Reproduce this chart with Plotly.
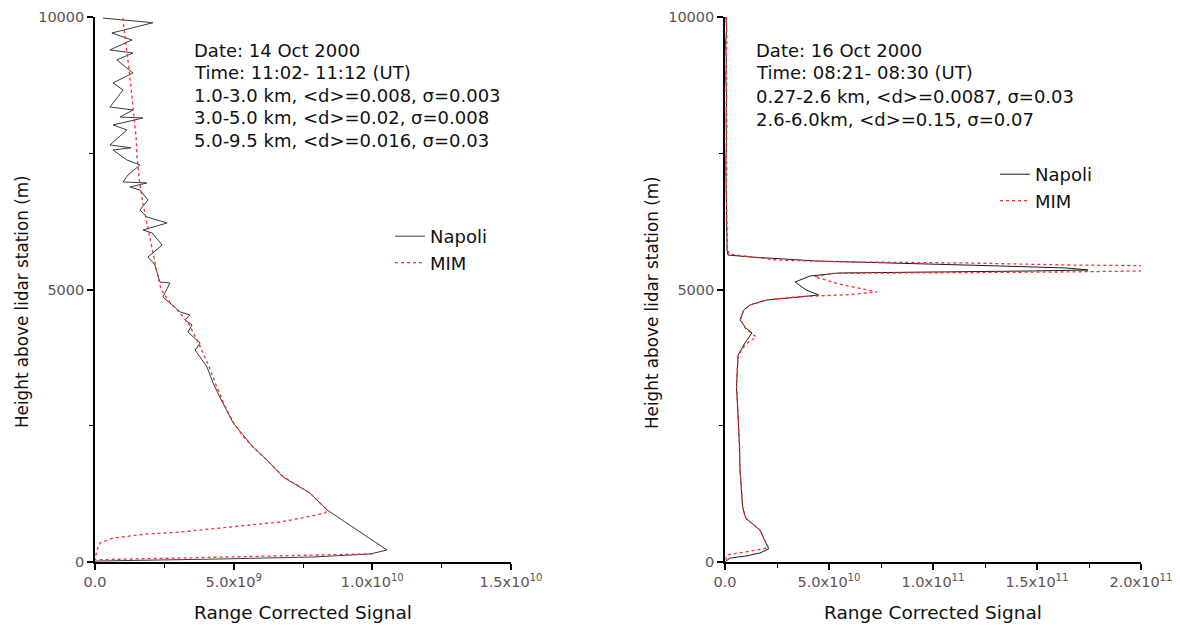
import plotly.graph_objects as go

# ---------------- data: 14 Oct 2000 (left panel) ----------------
napoli_14_signal = [0.29e9, 2.09e9, 0.61e9, 1.33e9, 0.54e9, 1.37e9, 0.79e9, 1.37e9, 0.65e9, 1.01e9,
                    0.54e9, 1.37e9, 0.90e9, 1.73e9, 0.65e9, 1.15e9, 0.54e9, 1.30e9, 0.65e9, 1.15e9,
                    1.62e9, 1.19e9, 1.01e9, 1.87e9, 1.26e9, 1.62e9, 1.91e9, 1.62e9, 1.87e9, 2.60e9,
                    1.73e9, 2.06e9, 2.42e9, 1.91e9, 2.16e9, 2.34e9, 2.70e9, 2.45e9, 2.70e9, 3.07e9,
                    3.43e9, 3.25e9, 3.50e9, 3.35e9, 3.79e9, 3.61e9, 4.04e9, 4.26e9, 4.50e9, 4.98e9,
                    5.70e9, 6.20e9, 6.78e9, 7.75e9, 8.37e9, 9.45e9, 10.53e9, 9.92e9, 7.86e9, 4.50e9,
                    2.34e9, 0.07e9, 0.0]
napoli_14_height = [9980, 9895, 9707, 9579, 9395, 9340, 9212, 8973, 8790, 8660,
                    8349, 8294, 8165, 8147, 8019, 7927, 7652, 7600, 7560, 7377,
                    7285, 7101, 6973, 6955, 6881, 6826, 6643, 6459, 6331, 6221,
                    6092, 6037, 5817, 5597, 5450, 5138, 5120, 4863, 4753, 4588,
                    4532, 4441, 4349, 4220, 4019, 3890, 3578, 3284, 3028, 2551,
                    2110, 1872, 1560, 1266, 954, 587, 220, 147, 92, 55,
                    37, 18, 0]

mim_14_signal = [1.00e9, 1.10e9, 1.19e9, 1.28e9, 1.38e9, 1.48e9, 1.52e9, 1.60e9, 1.72e9, 1.88e9,
                 2.05e9, 2.20e9, 2.38e9, 2.72e9, 3.07e9, 3.40e9, 3.75e9, 4.10e9, 4.40e9, 4.70e9,
                 5.00e9, 5.35e9, 5.70e9, 6.20e9, 6.80e9, 7.75e9, 8.37e9, 8.30e9, 7.64e9, 6.67e9,
                 4.87e9, 3.07e9, 1.87e9, 0.65e9, 0.18e9, 0.07e9, 0.0, 10.0e9]
mim_14_height = [9980, 9600, 9200, 8800, 8300, 7800, 7400, 7000, 6600, 6200,
                 5750, 5400, 5000, 4750, 4570, 4350, 4000, 3600, 3200, 2850,
                 2550, 2300, 2110, 1870, 1560, 1266, 954, 900, 826, 734,
                 642, 550, 514, 440, 349, 220, 40, 150]

# ---------------- data: 16 Oct 2000 (right panel) ----------------
napoli_16_signal = [0.004e11, 0.008e11, 0.003e11, 0.007e11, 0.004e11, 0.008e11, 0.005e11, 0.007e11,
                    0.004e11, 0.006e11, 0.005e11, 0.007e11, 0.008e11, 0.010e11, 0.0144e11, 0.12e11,
                    0.44e11, 0.84e11, 1.32e11, 1.64e11, 1.745e11, 1.48e11, 1.00e11, 0.55e11,
                    0.41e11, 0.337e11, 0.39e11, 0.45e11, 0.36e11, 0.20e11, 0.12e11, 0.09e11,
                    0.072e11, 0.10e11, 0.13e11, 0.096e11, 0.063e11, 0.058e11, 0.055e11, 0.060e11,
                    0.066e11, 0.070e11, 0.072e11, 0.078e11, 0.085e11, 0.10e11, 0.168e11, 0.19e11,
                    0.207e11, 0.21e11, 0.168e11, 0.10e11, 0.024e11, 0.01e11, 0.0]
napoli_16_height = [10000, 9800, 9500, 9200, 8900, 8500, 8100, 7700,
                    7300, 6900, 6500, 6200, 5909, 5725, 5633, 5597,
                    5523, 5487, 5432, 5395, 5358, 5340, 5322, 5303,
                    5248, 5138, 4991, 4900, 4863, 4808, 4716, 4624,
                    4441, 4294, 4202, 4019, 3799, 3500, 3200, 2900,
                    2500, 2100, 1700, 1300, 1000, 800, 587, 404,
                    275, 240, 165, 110, 73, 37, 0]

mim_16_signal = [0.006e11, 0.009e11, 0.005e11, 0.008e11, 0.006e11, 0.009e11, 0.006e11, 0.008e11,
                 0.006e11, 0.008e11, 0.009e11, 0.012e11, 0.02e11, 0.25e11, 0.60e11, 1.16e11,
                 1.64e11, 2.00e11, 2.30e11, 2.00e11, 1.64e11, 1.00e11, 0.52e11, 0.43e11,
                 0.55e11, 0.73e11, 0.60e11, 0.36e11, 0.20e11, 0.12e11, 0.09e11, 0.075e11,
                 0.10e11, 0.15e11, 0.10e11, 0.065e11, 0.058e11, 0.056e11, 0.060e11, 0.066e11,
                 0.070e11, 0.072e11, 0.078e11, 0.085e11, 0.10e11, 0.168e11, 0.19e11, 0.21e11,
                 0.01e11, 0.0]
mim_16_height = [10000, 9600, 9200, 8800, 8400, 8000, 7600, 7200,
                 6800, 6400, 6000, 5750, 5650, 5540, 5505, 5487,
                 5450, 5438, 5390, 5340, 5322, 5310, 5295, 5235,
                 5100, 4955, 4905, 4870, 4810, 4716, 4624, 4441,
                 4280, 4129, 4000, 3800, 3500, 3200, 2900, 2500,
                 2100, 1700, 1300, 1000, 800, 587, 404, 260,
                 128, 0]

# ---------------- ticks & texts ----------------
x1_tickvals = [0, 5e9, 1e10, 1.5e10]
x1_ticktext = ["0.0", "5.0x10<sup>9</sup>", "1.0x10<sup>10</sup>", "1.5x10<sup>10</sup>"]
x2_tickvals = [0, 5e10, 1e11, 1.5e11, 2e11]
x2_ticktext = ["0.0", "5.0x10<sup>10</sup>", "1.0x10<sup>11</sup>", "1.5x10<sup>11</sup>", "2.0x10<sup>11</sup>"]
y_tickvals = [0, 5000, 10000]
y_ticktext = ["0", "5000", "10000"]

left_info = ["Date: 14 Oct 2000",
             "Time: 11:02- 11:12 (UT)",
             "1.0-3.0 km, <d>=0.008, σ=0.003",
             "3.0-5.0 km, <d>=0.02, σ=0.008",
             "5.0-9.5 km, <d>=0.016, σ=0.03"]
right_info = ["Date: 16 Oct 2000",
              "Time: 08:21- 08:30 (UT)",
              "0.27-2.6 km, <d>=0.0087, σ=0.03",
              "2.6-6.0km, <d>=0.15, σ=0.07"]

FONT = "DejaVu Sans, Liberation Sans, Arial, sans-serif"
W, H = 1180, 627

fig = go.Figure()
fig.add_trace(go.Scatter(x=napoli_14_signal, y=napoli_14_height, mode="lines", name="Napoli",
                         line=dict(color="#3a3a3a", width=1), xaxis="x", yaxis="y", legend="legend"))
fig.add_trace(go.Scatter(x=mim_14_signal, y=mim_14_height, mode="lines", name="MIM",
                         line=dict(color="#ff2a2a", width=1.3, dash="dot"), xaxis="x", yaxis="y", legend="legend"))
fig.add_trace(go.Scatter(x=napoli_16_signal, y=napoli_16_height, mode="lines", name="Napoli",
                         line=dict(color="#1a1a1a", width=1), xaxis="x2", yaxis="y2", legend="legend2"))
fig.add_trace(go.Scatter(x=mim_16_signal, y=mim_16_height, mode="lines", name="MIM",
                         line=dict(color="#ff2a2a", width=1.3, dash="dot"), xaxis="x2", yaxis="y2", legend="legend2"))

tick_font = dict(family=FONT, size=14.5, color="#5e5252")
common = dict(showline=True, linecolor="black", linewidth=1.6, showgrid=False, zeroline=False,
              ticks="outside", ticklen=6, tickwidth=1.5, tickcolor="black", tickfont=tick_font,
              automargin=False, fixedrange=True)

y_bottom, y_top = 1 - 562 / H, 1 - 17 / H
legend_font = dict(family=FONT, size=18, color="#111")
fig.update_layout(
    width=W, height=H, margin=dict(l=0, r=0, t=0, b=0),
    paper_bgcolor="white", plot_bgcolor="white",
    xaxis=dict(domain=[95 / W, 511 / W], range=[0, 1.5e10], tickvals=x1_tickvals, ticktext=x1_ticktext,
               anchor="y", minor=dict(dtick=2.5e9, ticks="outside", ticklen=4, tickcolor="black", tickwidth=1.3),
               **common),
    yaxis=dict(domain=[y_bottom, y_top], range=[0, 10000], tickvals=y_tickvals, ticktext=y_ticktext,
               anchor="x", minor=dict(dtick=2500, ticks="outside", ticklen=4, tickcolor="black", tickwidth=1.3),
               **common),
    xaxis2=dict(domain=[725 / W, 1141 / W], range=[0, 2e11], tickvals=x2_tickvals, ticktext=x2_ticktext,
                anchor="y2", minor=dict(dtick=2.5e10, ticks="outside", ticklen=4, tickcolor="black", tickwidth=1.3),
                **common),
    yaxis2=dict(domain=[y_bottom, y_top], range=[0, 10000], tickvals=y_tickvals, ticktext=y_ticktext,
                anchor="x2", minor=dict(dtick=2500, ticks="outside", ticklen=4, tickcolor="black", tickwidth=1.3),
                **common),
    legend=dict(x=390 / W, y=1 - 218 / H, xanchor="left", yanchor="top", bgcolor="rgba(0,0,0,0)",
                font=legend_font, tracegroupgap=0, itemwidth=30),
    legend2=dict(x=995 / W, y=1 - 156 / H, xanchor="left", yanchor="top", bgcolor="rgba(0,0,0,0)",
                 font=legend_font, tracegroupgap=0, itemwidth=30),
    showlegend=True,
)

annotations = []
for i, t in enumerate(left_info):
    annotations.append(dict(text=t, x=192 / W, y=1 - (50 + 22.6 * i) / H, xref="paper", yref="paper",
                            xanchor="left", yanchor="middle", showarrow=False,
                            font=dict(family=FONT, size=18, color="#111")))
for i, t in enumerate(right_info):
    annotations.append(dict(text=t, x=754 / W, y=1 - (50 + 23 * i) / H, xref="paper", yref="paper",
                            xanchor="left", yanchor="middle", showarrow=False,
                            font=dict(family=FONT, size=18, color="#111")))
xtitle_font = dict(family=FONT, size=18.5, color="#111")
ytitle_font = dict(family=FONT, size=16.8, color="#111")
annotations += [
    dict(text="Range Corrected Signal", x=303 / W, y=1 - 612 / H, xref="paper", yref="paper",
         xanchor="center", yanchor="middle", showarrow=False, font=xtitle_font),
    dict(text="Range Corrected Signal", x=933 / W, y=1 - 612 / H, xref="paper", yref="paper",
         xanchor="center", yanchor="middle", showarrow=False, font=xtitle_font),
    dict(text="Height above lidar station (m)", x=22 / W, y=1 - 302 / H, xref="paper", yref="paper",
         xanchor="center", yanchor="middle", showarrow=False, textangle=-90, font=ytitle_font),
    dict(text="Height above lidar station (m)", x=652 / W, y=1 - 302 / H, xref="paper", yref="paper",
         xanchor="center", yanchor="middle", showarrow=False, textangle=-90, font=ytitle_font),
]
fig.update_layout(annotations=annotations)

fig.write_html("out.html")
